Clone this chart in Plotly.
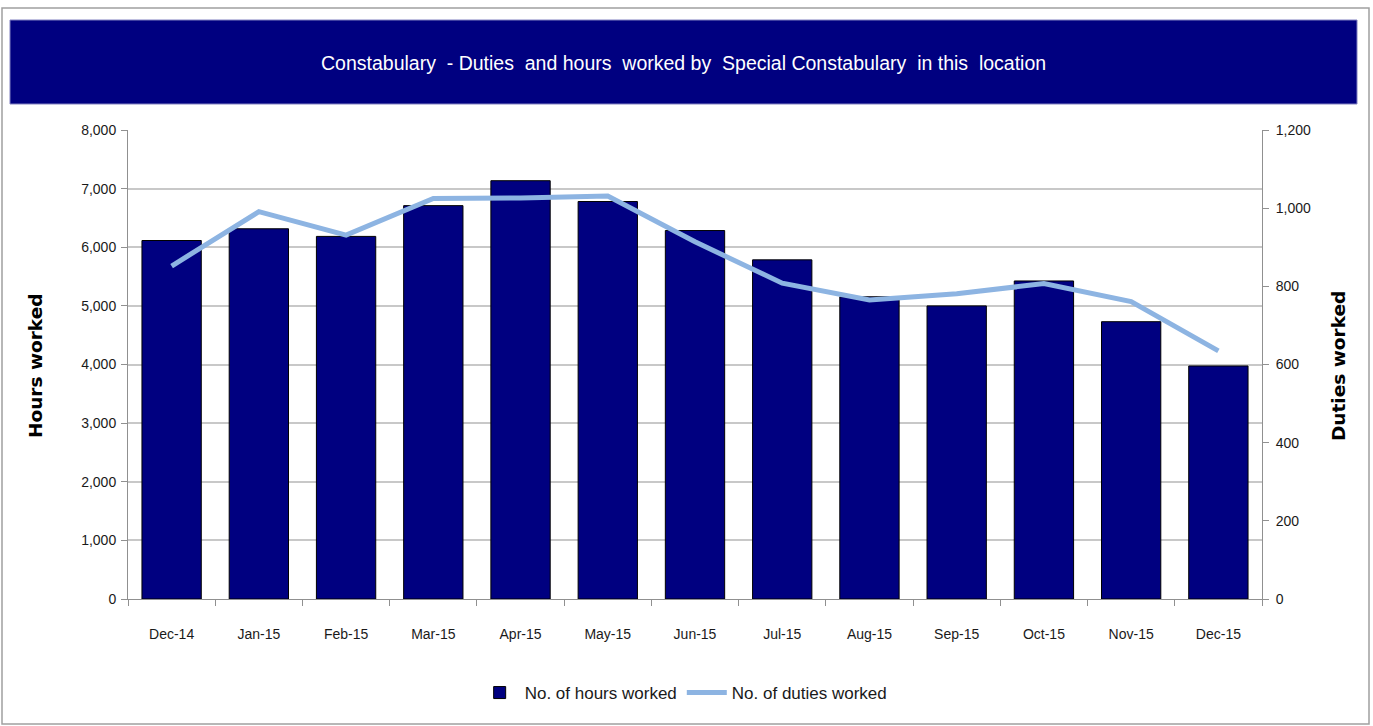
import plotly.graph_objects as go

months = ["Dec-14", "Jan-15", "Feb-15", "Mar-15", "Apr-15", "May-15", "Jun-15",
          "Jul-15", "Aug-15", "Sep-15", "Oct-15", "Nov-15", "Dec-15"]
hours_worked = [6115, 6315, 6185, 6710, 7135, 6780, 6285, 5785, 5155, 5000, 5425, 4730, 3975]
duties_worked = [852, 991, 931, 1025, 1026, 1031, 914, 808, 765, 781, 807, 761, 635]

W, H = 1373, 726
L, R, T, B = 128, 1262, 130, 599

def px(x):
    return (x - L) / (R - L)

def py(y):
    return (B - y) / (B - T)

tick_font = dict(family="Liberation Sans, Arial, sans-serif", size=14, color="#1a1a1a")

fig = go.Figure()
fig.add_trace(go.Bar(
    x=months, y=hours_worked, name="No. of hours worked",
    marker=dict(color="#000080", line=dict(color="#000000", width=1)),
    yaxis="y",
))
fig.add_trace(go.Scatter(
    x=months, y=duties_worked, name="No. of duties worked", mode="lines",
    line=dict(color="#8DB4E2", width=5), yaxis="y2",
))

fig.update_layout(
    width=W, height=H,
    margin=dict(l=L, r=W - R, t=T, b=H - B),
    paper_bgcolor="white", plot_bgcolor="white",
    bargap=0.32,
    showlegend=True,
    legend=dict(orientation="h", x=0.49, xanchor="center", y=py(693), yanchor="middle",
                font=dict(family="Liberation Sans, Arial, sans-serif", size=17, color="#1a1a1a"),
                itemwidth=40, traceorder="normal"),
    xaxis=dict(range=[-0.5, 12.5], showgrid=False, showline=True, linecolor="#909090",
               ticks="outside", tickson="boundaries", ticklen=6, tickcolor="#909090",
               tickfont=tick_font, ticklabelstandoff=22, fixedrange=True),
    yaxis=dict(range=[0, 8000], dtick=1000, tickformat=",d", showgrid=True, gridcolor="#c8c8c8",
               gridwidth=1.5, showline=True, linecolor="#909090", ticks="outside", ticklen=6,
               tickcolor="#909090", tickfont=tick_font, ticklabelstandoff=2, zeroline=False),
    yaxis2=dict(range=[0, 1200], dtick=200, tickformat=",d", overlaying="y", side="right",
                showgrid=False, showline=True, linecolor="#909090", ticks="outside", ticklen=6,
                tickcolor="#909090", tickfont=tick_font, ticklabelstandoff=4, zeroline=False),
    shapes=[
        dict(type="rect", xref="paper", yref="paper", x0=px(2), x1=px(1369), y0=py(724), y1=py(8),
             line=dict(color="#a0a0a0", width=1.5), fillcolor="rgba(0,0,0,0)", layer="below"),
        dict(type="rect", xref="paper", yref="paper", x0=px(10), x1=px(1357), y0=py(104), y1=py(20),
             line=dict(color="#8080c0", width=1), fillcolor="#000080", layer="below"),
    ],
    annotations=[
        dict(text="Constabulary  - Duties  and hours  worked by  Special Constabulary  in this  location",
             xref="paper", yref="paper", x=px(683), y=py(63), showarrow=False,
             font=dict(family="Liberation Sans Narrow, Arial Narrow, Liberation Sans, sans-serif",
                       size=19.5, color="white"),
             xanchor="center", yanchor="middle"),
        dict(text="<b>Hours worked</b>", xref="paper", yref="paper", x=px(35), y=py(366),
             textangle=-90, showarrow=False,
             font=dict(family="DejaVu Sans, Verdana, sans-serif", size=18.5, color="black"),
             xanchor="center", yanchor="middle"),
        dict(text="<b>Duties worked</b>", xref="paper", yref="paper", x=px(1338), y=py(366),
             textangle=-90, showarrow=False,
             font=dict(family="DejaVu Sans, Verdana, sans-serif", size=18.5, color="black"),
             xanchor="center", yanchor="middle"),
    ],
)

fig.write_html("out.html", config={"displayModeBar": False},
               post_script="document.body.style.margin='0';")
